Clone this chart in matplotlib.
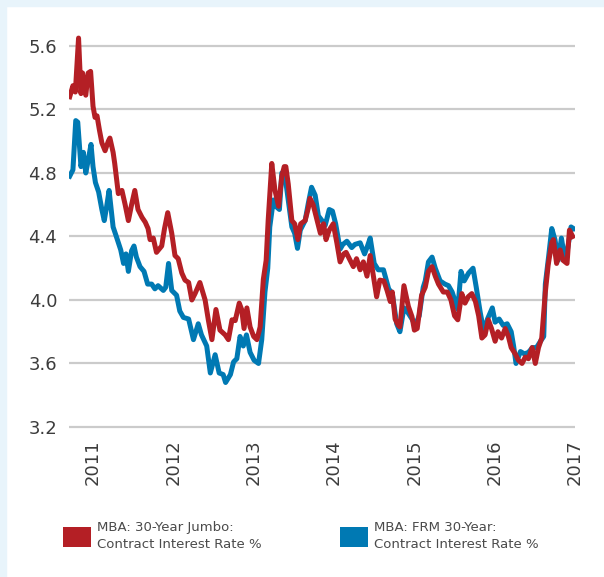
import matplotlib
matplotlib.use("Agg")
import matplotlib.pyplot as plt
from matplotlib.patches import Patch, Rectangle

# MBA 30-Year Jumbo contract rate (decimal year, %)
jumbo_t = [2010.71, 2010.75, 2010.78, 2010.82, 2010.85, 2010.87, 2010.91, 2010.94, 2010.97, 2011.00,
           2011.025, 2011.05, 2011.08, 2011.11, 2011.15, 2011.19, 2011.21, 2011.25, 2011.27, 2011.315,
           2011.36, 2011.40, 2011.44, 2011.48, 2011.52, 2011.56, 2011.61, 2011.65, 2011.685, 2011.71,
           2011.75, 2011.79, 2011.855, 2011.89, 2011.93, 2011.98, 2012.02, 2012.06, 2012.105, 2012.145,
           2012.19, 2012.23, 2012.27, 2012.33, 2012.395, 2012.435, 2012.48, 2012.53, 2012.58, 2012.645,
           2012.685, 2012.73, 2012.77, 2012.82, 2012.85, 2012.88, 2012.915, 2012.955, 2013.00, 2013.04,
           2013.08, 2013.12, 2013.155, 2013.18, 2013.225, 2013.265, 2013.31, 2013.35, 2013.38, 2013.40,
           2013.43, 2013.475, 2013.51, 2013.55, 2013.585, 2013.64, 2013.68, 2013.70, 2013.74, 2013.78,
           2013.83, 2013.87, 2013.90, 2013.94, 2013.99, 2014.035, 2014.075, 2014.12, 2014.15, 2014.20,
           2014.24, 2014.28, 2014.325, 2014.365, 2014.41, 2014.45, 2014.49, 2014.53, 2014.57, 2014.62,
           2014.66, 2014.70, 2014.725, 2014.76, 2014.80, 2014.82, 2014.87, 2014.925, 2014.97, 2015.00,
           2015.035, 2015.09, 2015.135, 2015.175, 2015.22, 2015.26, 2015.30, 2015.36, 2015.41, 2015.455,
           2015.50, 2015.54, 2015.59, 2015.63, 2015.67, 2015.715, 2015.76, 2015.80, 2015.84, 2015.88,
           2015.92, 2015.96, 2016.005, 2016.04, 2016.085, 2016.13, 2016.17, 2016.205, 2016.255, 2016.295,
           2016.34, 2016.38, 2016.42, 2016.465, 2016.505, 2016.545, 2016.585, 2016.63, 2016.665, 2016.71,
           2016.73, 2016.77, 2016.815, 2016.85, 2016.90, 2016.93, 2016.97]
jumbo_rate = [5.28, 5.35, 5.31, 5.65, 5.30, 5.43, 5.29, 5.43, 5.44, 5.22,
              5.15, 5.16, 5.07, 4.99, 4.94, 5.00, 5.02, 4.93, 4.86, 4.67,
              4.69, 4.60, 4.50, 4.60, 4.69, 4.57, 4.52, 4.49, 4.45, 4.38,
              4.39, 4.30, 4.34, 4.45, 4.55, 4.42, 4.28, 4.26, 4.17, 4.125,
              4.11, 4.00, 4.04, 4.11, 4.00, 3.875, 3.75, 3.94, 3.81, 3.78,
              3.75, 3.875, 3.87, 3.98, 3.94, 3.82, 3.95, 3.83, 3.77, 3.75,
              3.83, 4.13, 4.25, 4.50, 4.86, 4.69, 4.59, 4.78, 4.84, 4.84,
              4.73, 4.50, 4.48, 4.38, 4.48, 4.50, 4.58, 4.64, 4.60, 4.52,
              4.42, 4.48, 4.38, 4.44, 4.48, 4.36, 4.24, 4.29, 4.30, 4.25,
              4.21, 4.26, 4.19, 4.24, 4.15, 4.28, 4.15, 4.02, 4.125, 4.12,
              4.06, 3.99, 4.05, 3.88, 3.84, 3.83, 4.09, 3.96, 3.895, 3.81,
              3.82, 4.03, 4.08, 4.18, 4.21, 4.15, 4.10, 4.05, 4.05, 4.00,
              3.90, 3.875, 4.04, 3.98, 4.02, 4.04, 3.99, 3.90, 3.76, 3.78,
              3.875, 3.82, 3.74, 3.80, 3.76, 3.82, 3.77, 3.70, 3.66, 3.62,
              3.60, 3.64, 3.63, 3.70, 3.60, 3.70, 3.76, 4.05, 4.22, 4.36,
              4.38, 4.23, 4.315, 4.25, 4.23, 4.44, 4.40]

# MBA FRM 30-Year contract rate (decimal year, %)
frm_t = [2010.71, 2010.75, 2010.785, 2010.81, 2010.85, 2010.88, 2010.91, 2010.94, 2010.975, 2011.00,
         2011.03, 2011.07, 2011.11, 2011.14, 2011.17, 2011.20, 2011.23, 2011.25, 2011.29, 2011.345,
         2011.38, 2011.41, 2011.44, 2011.48, 2011.51, 2011.54, 2011.585, 2011.635, 2011.68, 2011.73,
         2011.77, 2011.81, 2011.875, 2011.905, 2011.94, 2011.98, 2012.04, 2012.08, 2012.125, 2012.19,
         2012.25, 2012.31, 2012.35, 2012.415, 2012.46, 2012.52, 2012.57, 2012.62, 2012.65, 2012.71,
         2012.75, 2012.79, 2012.83, 2012.87, 2012.91, 2012.955, 2013.005, 2013.06, 2013.10, 2013.14,
         2013.175, 2013.20, 2013.245, 2013.275, 2013.32, 2013.35, 2013.39, 2013.43, 2013.475, 2013.51,
         2013.545, 2013.58, 2013.64, 2013.68, 2013.72, 2013.765, 2013.805, 2013.85, 2013.89, 2013.94,
         2013.98, 2014.02, 2014.075, 2014.11, 2014.16, 2014.22, 2014.26, 2014.325, 2014.38, 2014.41,
         2014.45, 2014.50, 2014.55, 2014.615, 2014.68, 2014.725, 2014.78, 2014.82, 2014.87, 2014.92,
         2014.97, 2015.01, 2015.06, 2015.11, 2015.135, 2015.175, 2015.22, 2015.26, 2015.32, 2015.38,
         2015.425, 2015.47, 2015.54, 2015.58, 2015.62, 2015.675, 2015.73, 2015.77, 2015.82, 2015.865,
         2015.91, 2015.97, 2016.005, 2016.055, 2016.105, 2016.155, 2016.205, 2016.235, 2016.265, 2016.32,
         2016.37, 2016.42, 2016.47, 2016.52, 2016.57, 2016.61, 2016.63, 2016.67, 2016.71, 2016.75,
         2016.79, 2016.83, 2016.865, 2016.90, 2016.95, 2016.98]
frm_rate = [4.78, 4.82, 5.13, 5.12, 4.84, 4.93, 4.80, 4.88, 4.98, 4.84,
            4.74, 4.68, 4.57, 4.50, 4.59, 4.69, 4.55, 4.46, 4.40, 4.315,
            4.23, 4.29, 4.18, 4.31, 4.34, 4.27, 4.21, 4.18, 4.10, 4.10,
            4.07, 4.09, 4.06, 4.08, 4.23, 4.06, 4.03, 3.93, 3.89, 3.88,
            3.75, 3.85, 3.78, 3.71, 3.54, 3.655, 3.54, 3.53, 3.48, 3.53,
            3.61, 3.63, 3.77, 3.71, 3.78, 3.67, 3.62, 3.60, 3.75, 4.05,
            4.20, 4.46, 4.63, 4.59, 4.57, 4.80, 4.78, 4.63, 4.46, 4.42,
            4.325, 4.44, 4.50, 4.61, 4.71, 4.66, 4.53, 4.50, 4.47, 4.57,
            4.56, 4.48, 4.32, 4.35, 4.37, 4.33, 4.35, 4.36, 4.29, 4.33,
            4.39, 4.23, 4.19, 4.19, 4.07, 4.04, 3.85, 3.80, 3.95, 3.92,
            3.88, 3.84, 3.90, 4.08, 4.12, 4.24, 4.27, 4.20, 4.12, 4.10,
            4.09, 4.05, 3.94, 4.18, 4.12, 4.17, 4.20, 4.08, 3.92, 3.80,
            3.88, 3.95, 3.86, 3.88, 3.84, 3.85, 3.80, 3.71, 3.60, 3.675,
            3.66, 3.67, 3.70, 3.70, 3.74, 3.77, 4.10, 4.27, 4.45, 4.38,
            4.25, 4.39, 4.28, 4.30, 4.46, 4.45]

years = [2011, 2012, 2013, 2014, 2015, 2016, 2017]
y_ticks = [3.2, 3.6, 4.0, 4.4, 4.8, 5.2, 5.6]

red = "#b41f25"
blue = "#0079b3"
text_col = "#3c3c3c"

fig = plt.figure(figsize=(6.04, 5.77), dpi=100)
fig.patch.set_facecolor("white")
# light blue frame on top and left edge
fig.patches.append(Rectangle((0, 0), 6 / 604, 1, transform=fig.transFigure,
                             color="#e8f4fb", zorder=0))
fig.patches.append(Rectangle((0, 1 - 6 / 577), 1, 6 / 577, transform=fig.transFigure,
                             color="#e8f4fb", zorder=0))

ax = fig.add_axes([0.1141, 0.2463, 0.838, 0.7015])
ax.plot(frm_t, frm_rate, color=blue, linewidth=3.6, solid_joinstyle="round", zorder=3)
ax.plot(jumbo_t, jumbo_rate, color=red, linewidth=3.6, solid_joinstyle="round", zorder=4)

ax.set_xlim(2010.70, 2017.0)
ax.set_ylim(3.15, 5.70)
ax.set_yticks(y_ticks)
ax.set_yticklabels([f"{v:.1f}" for v in y_ticks])
ax.set_xticks(years)
ax.set_xticklabels([str(y) for y in years], rotation=90)
ax.tick_params(axis="y", length=0, pad=8.5, labelsize=13, labelcolor=text_col)
ax.tick_params(axis="x", length=0, pad=3, labelsize=13, labelcolor=text_col)
ax.grid(axis="y", color="#cbcbcb", linewidth=1.6, zorder=0)
ax.grid(axis="x", visible=False)
for s in ax.spines.values():
    s.set_visible(False)

leg_items = [("MBA: 30-Year Jumbo:\nContract Interest Rate %", red, 63),
             ("MBA: FRM 30-Year:\nContract Interest Rate %", blue, 340)]
for label, col, xpx in leg_items:
    leg = fig.legend(handles=[Patch(facecolor=col, edgecolor="none")], labels=[label],
                     loc="upper left", bbox_to_anchor=(xpx / 604, 1 - 521 / 577),
                     frameon=False, fontsize=9.5, handlelength=2.15, handleheight=2.0,
                     handletextpad=0.45, borderpad=0, borderaxespad=0,
                     labelcolor="#4a4a4a")
    for t in leg.get_texts():
        t.set_linespacing(1.45)

fig.savefig("out.png", dpi=100)
